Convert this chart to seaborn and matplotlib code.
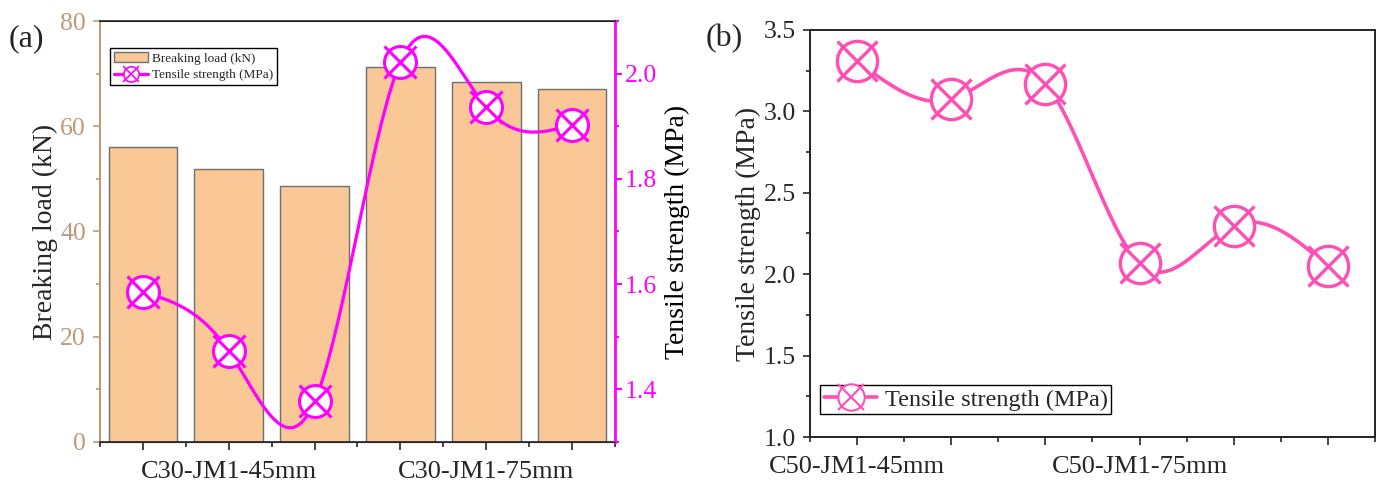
import numpy as np
import matplotlib
matplotlib.use("Agg")
import matplotlib.pyplot as plt
import seaborn as sns
import pandas as pd
from matplotlib.ticker import MultipleLocator, FixedLocator
from matplotlib.lines import Line2D
from matplotlib.patches import Patch

# panel (a)
positions_a = [0, 1, 2, 3, 4, 5]
labels_a = ["", "C30-JM1-45mm", "", "", "C30-JM1-75mm", ""]
breaking_load = [56.0, 51.9, 48.6, 71.2, 68.4, 67.1]
tensile_a = [1.585, 1.473, 1.377, 2.022, 1.936, 1.903]

# panel (b)
positions_b = [0, 1, 2, 3, 4, 5]
labels_b = ["C50-JM1-45mm", "", "", "C50-JM1-75mm", "", ""]
tensile_b = [3.31, 3.074, 3.17, 2.067, 2.298, 2.05]

TAN = "#BD9A78"
MAGENTA = "#FF00FF"
PINK = "#FF4FB4"
BAR = "#F9C896"


def natural_spline(x, y, n=300):
    # smooth connecting curve through the points (like Origin's spline line)
    x = np.asarray(x, float)
    y = np.asarray(y, float)
    k = len(x)
    h = np.diff(x)
    A = np.zeros((k, k))
    r = np.zeros(k)
    A[0, 0] = A[-1, -1] = 1
    for i in range(1, k - 1):
        A[i, i - 1] = h[i - 1]
        A[i, i] = 2 * (h[i - 1] + h[i])
        A[i, i + 1] = h[i]
        r[i] = 6 * ((y[i + 1] - y[i]) / h[i] - (y[i] - y[i - 1]) / h[i - 1])
    M = np.linalg.solve(A, r)
    xs = np.linspace(x[0], x[-1], n)
    idx = np.clip(np.searchsorted(x, xs) - 1, 0, k - 2)
    x0, x1, hh = x[idx], x[idx + 1], h[idx]
    ys = (M[idx] * (x1 - xs) ** 3 / (6 * hh) + M[idx + 1] * (xs - x0) ** 3 / (6 * hh)
          + (y[idx] / hh - M[idx] * hh / 6) * (x1 - xs)
          + (y[idx + 1] / hh - M[idx + 1] * hh / 6) * (xs - x0))
    return xs, ys


def cross_circle(ax, x, y, color, ms, mew):
    ax.plot(x, y, ls="none", marker="o", ms=ms, mfc="white", mec=color, mew=mew, zorder=4)
    ax.plot(x, y, ls="none", marker="x", ms=ms, mec=color, mew=mew, zorder=5)


sns.set_style("ticks")
plt.rcParams["font.family"] = ["Liberation Serif", "DejaVu Serif"]

fig = plt.figure(figsize=(13.81, 4.84), dpi=100)
ax = fig.add_axes([0.0724, 0.0868, 0.3729, 0.8698])
ax2 = ax.twinx()

df_a = pd.DataFrame({"pos": positions_a, "load": breaking_load})
sns.barplot(data=df_a, x="pos", y="load", ax=ax, color=BAR, edgecolor="#6e6e6e",
            linewidth=1.0, width=0.8, saturation=1)
ax.set_xlim(-0.5, 5.5)
ax.set_ylim(0, 80)
ax.yaxis.set_major_locator(MultipleLocator(20))
ax.yaxis.set_minor_locator(MultipleLocator(10))
ax.xaxis.set_major_locator(FixedLocator(positions_a))
ax.set_xticklabels(labels_a)
ax.xaxis.set_minor_locator(MultipleLocator(0.5))
ax.set_xlabel("")
ax.set_ylabel("Breaking load (kN)", fontsize=20, labelpad=2)
ax.tick_params(axis="x", which="major", length=6, width=1.2, labelsize=19, pad=8)
ax.tick_params(axis="x", which="minor", length=3.5, width=1.2)
ax.tick_params(axis="y", which="major", length=5, width=1.2, labelsize=18.5,
               colors=TAN, pad=5)
ax.tick_params(axis="y", which="minor", length=3, width=1.2, colors=TAN)
ax.spines["left"].set_color(TAN)
ax.spines["left"].set_linewidth(1.5)
ax.spines["bottom"].set_linewidth(1.2)

xs, ys = natural_spline(positions_a, tensile_a)
sns.lineplot(x=xs, y=ys, ax=ax2, color=MAGENTA, lw=2.3, estimator=None, sort=False)
cross_circle(ax2, positions_a, tensile_a, MAGENTA, 23, 2.2)
ax2.set_ylim(1.3, 2.1)
ax2.yaxis.set_major_locator(MultipleLocator(0.2))
ax2.yaxis.set_minor_locator(MultipleLocator(0.1))
ax2.set_ylabel("Tensile strength (MPa)", fontsize=20, labelpad=6)
ax2.tick_params(axis="y", which="major", length=5, width=1.5, labelsize=18.5,
                colors=MAGENTA, pad=2)
ax2.tick_params(axis="y", which="minor", length=3, width=1.5, colors=MAGENTA)
ax2.yaxis.label.set_color("black")
ax2.spines["right"].set_color(MAGENTA)
ax2.spines["right"].set_linewidth(2)
ax2.spines["left"].set_visible(False)
ax2.spines["top"].set_linewidth(1.2)

h_bar = Patch(facecolor=BAR, edgecolor="#6e6e6e", linewidth=1)
h_line = (Line2D([], [], color=MAGENTA, lw=2.3, marker="o", ms=11, mfc="white",
                 mec=MAGENTA, mew=1.2),
          Line2D([], [], ls="none", marker="x", ms=11, mec=MAGENTA, mew=1.2))
leg = ax2.legend([h_bar, h_line], ["Breaking load (kN)", "Tensile strength (MPa)"],
                 loc="upper left", bbox_to_anchor=(0.019, 0.935), fontsize=9.5,
                 frameon=True, fancybox=False, framealpha=1, edgecolor="black",
                 borderaxespad=0, handlelength=2.6, handletextpad=0.3,
                 borderpad=0.3, labelspacing=0.35)
leg.get_frame().set_linewidth(1)

fig.text(0.006, 0.905, "(a)", fontsize=23, ha="left")

# panel (b)
bx = fig.add_axes([0.5865, 0.0971, 0.4091, 0.841])
xs, ys = natural_spline(positions_b, tensile_b)
sns.lineplot(x=xs, y=ys, ax=bx, color=PINK, lw=2.6, estimator=None, sort=False)
cross_circle(bx, positions_b, tensile_b, PINK, 29, 2.4)
bx.set_xlim(-0.5, 5.5)
bx.set_ylim(1.0, 3.5)
bx.yaxis.set_major_locator(MultipleLocator(0.5))
bx.yaxis.set_minor_locator(MultipleLocator(0.25))
bx.yaxis.set_major_formatter(matplotlib.ticker.FormatStrFormatter("%.1f"))
bx.xaxis.set_major_locator(FixedLocator(positions_b))
bx.set_xticklabels(labels_b)
bx.xaxis.set_minor_locator(MultipleLocator(0.5))
bx.set_ylabel("Tensile strength (MPa)", fontsize=20, labelpad=2)
bx.tick_params(axis="x", which="major", length=6, width=1.2, labelsize=19, pad=8)
bx.tick_params(axis="x", which="minor", length=3.5, width=1.2)
bx.tick_params(axis="y", which="major", length=5, width=1.2, labelsize=18.5, pad=5)
bx.tick_params(axis="y", which="minor", length=3, width=1.2)
for s in bx.spines.values():
    s.set_linewidth(1.4)
    s.set_color("#222222")

h_b = (Line2D([], [], color=PINK, lw=2.6, marker="o", ms=19, mfc="white",
              mec=PINK, mew=1.5),
       Line2D([], [], ls="none", marker="x", ms=19, mec=PINK, mew=1.5))
leg_b = bx.legend([h_b], ["Tensile strength (MPa)"], loc="lower left",
                  bbox_to_anchor=(0.018, 0.056), fontsize=17.5, frameon=True,
                  fancybox=False, framealpha=1, edgecolor="black", borderaxespad=0,
                  handlelength=2.2, handletextpad=0.3, borderpad=0.15)
leg_b.get_frame().set_linewidth(1)

fig.text(0.511, 0.905, "(b)", fontsize=23, ha="left")

fig.savefig("out.png", dpi=100)
